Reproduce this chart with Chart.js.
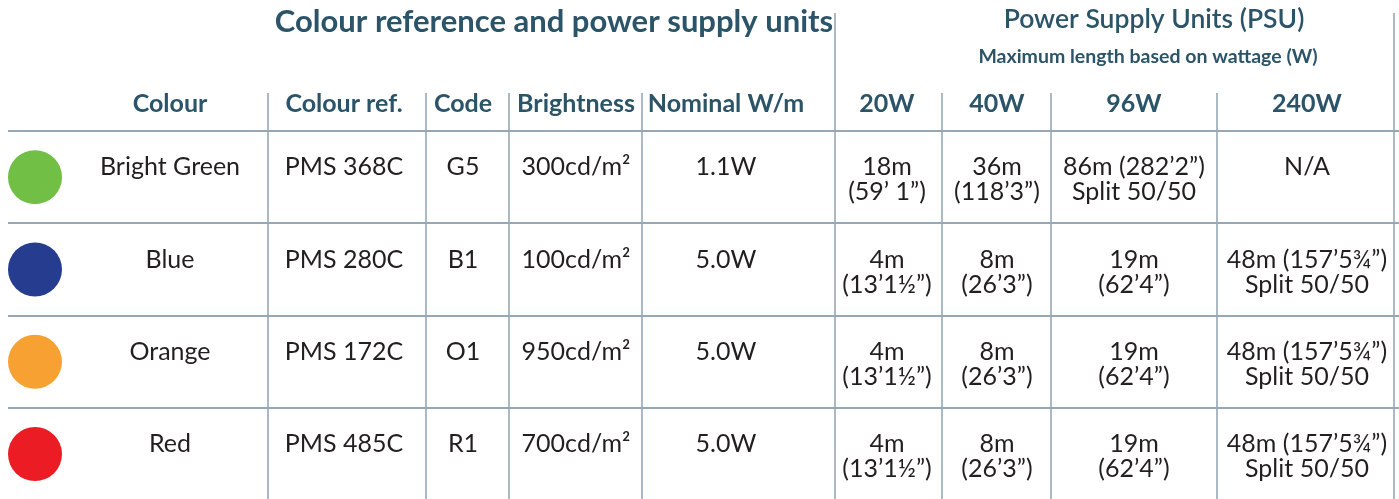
<!DOCTYPE html>
<html>
<head>
<meta charset="utf-8">
<script src="https://cdn.jsdelivr.net/npm/chart.js@4.4.1/dist/chart.umd.min.js"></script>
<style>
    html, body { margin: 0; padding: 0; background: #fff; }
    #wrap { width: 1399px; height: 499px; }
</style>
</head>
<body>
<div id="wrap"><canvas id="tableChart"></canvas></div>
<script>
// Table data
const columnHeaders = ['Colour', 'Colour ref.', 'Code', 'Brightness', 'Nominal W/m', '20W', '40W', '96W', '240W'];
const colourNames = ['Bright Green', 'Blue', 'Orange', 'Red'];
const swatchColours = ['#71bf45', '#263d8f', '#f8a133', '#ec1c24'];
const colourRefs = ['PMS 368C', 'PMS 280C', 'PMS 172C', 'PMS 485C'];
const codes = ['G5', 'B1', 'O1', 'R1'];
const brightness = ['300cd/m²', '100cd/m²', '950cd/m²', '700cd/m²'];
const nominalWm = ['1.1W', '5.0W', '5.0W', '5.0W'];
const psu20W = [['18m', '(59’ 1”)'], ['4m', '(13’1½”)'], ['4m', '(13’1½”)'], ['4m', '(13’1½”)']];
const psu40W = [['36m', '(118’3”)'], ['8m', '(26’3”)'], ['8m', '(26’3”)'], ['8m', '(26’3”)']];
const psu96W = [['86m (282’2”)', 'Split 50/50'], ['19m', '(62’4”)'], ['19m', '(62’4”)'], ['19m', '(62’4”)']];
const psu240W = [['N/A'], ['48m (157’5¾”)', 'Split 50/50'], ['48m (157’5¾”)', 'Split 50/50'], ['48m (157’5¾”)', 'Split 50/50']];

const mainTitle = 'Colour reference and power supply units';
const psuTitle = 'Power Supply Units (PSU)';
const psuSubtitle = 'Maximum length based on wattage (W)';

// Layout (x in page units, y in row units: row i spans i..i+1)
const colCenters = [170, 344, 463, 576, 726, 887, 997, 1134, 1307];
const swatchX = 35;
const innerEdges = [268, 426, 509, 642, 942, 1051, 1217];
const outerEdges = [835, 1394];
const rowLines = [0, 1, 2, 3];

const HEAD = '#2c5468';
const TEXT = '#231f20';
const LINE = '#95a8b4';

const columns = [colourNames, colourRefs, codes, brightness, nominalWm, psu20W, psu40W, psu96W, psu240W];

const tablePlugin = {
    id: 'tablePlugin',
    beforeDatasetsDraw(chart) {
        const { ctx, scales: { x, y } } = chart;
        ctx.save();
        ctx.strokeStyle = LINE;
        ctx.lineWidth = 2;
        rowLines.forEach(r => {
            const py = Math.round(y.getPixelForValue(r));
            ctx.beginPath();
            ctx.moveTo(x.getPixelForValue(8), py);
            ctx.lineTo(x.getPixelForValue(1399), py);
            ctx.stroke();
        });
        ctx.lineWidth = 1.6;
        innerEdges.forEach(e => {
            const px = x.getPixelForValue(e);
            ctx.beginPath();
            ctx.moveTo(px, y.getPixelForValue(-0.412));
            ctx.lineTo(px, y.getPixelForValue(4));
            ctx.stroke();
        });
        outerEdges.forEach(e => {
            const px = x.getPixelForValue(e);
            ctx.beginPath();
            ctx.moveTo(px, y.getPixelForValue(-1.278));
            ctx.lineTo(px, y.getPixelForValue(4));
            ctx.stroke();
        });
        ctx.restore();
    },
    afterDatasetsDraw(chart) {
        const { ctx, scales: { x, y } } = chart;
        ctx.save();
        ctx.textAlign = 'center';
        ctx.textBaseline = 'alphabetic';

        // titles
        ctx.fillStyle = HEAD;
        ctx.font = 'bold 31px Lato';
        ctx.fillText(mainTitle, x.getPixelForValue(554), y.getPixelForValue(-1.073));
        ctx.font = '600 26.5px Lato';
        ctx.fillText(psuTitle, x.getPixelForValue(1154), y.getPixelForValue(-1.116));
        ctx.font = 'bold 19.5px Lato';
        ctx.fillText(psuSubtitle, x.getPixelForValue(1148), y.getPixelForValue(-0.737));

        // column headers
        ctx.font = 'bold 25px Lato';
        columnHeaders.forEach((h, c) => {
            ctx.fillText(h, x.getPixelForValue(colCenters[c]), y.getPixelForValue(-0.206));
        });

        // body cells
        ctx.fillStyle = TEXT;
        ctx.font = '25px Lato';
        columns.forEach((col, c) => {
            col.forEach((cell, r) => {
                const lines = Array.isArray(cell) ? cell : [cell];
                lines.forEach((ln, k) => {
                    ctx.fillText(ln, x.getPixelForValue(colCenters[c]), y.getPixelForValue(r + 0.482 + k * 0.271));
                });
            });
        });
        ctx.restore();
    }
};

new Chart(document.getElementById('tableChart'), {
    type: 'scatter',
    data: {
        datasets: [{
            label: 'Colour',
            data: colourNames.map((n, i) => ({ x: swatchX, y: i + 0.5 })),
            backgroundColor: swatchColours,
            borderWidth: 0,
            pointRadius: 27,
            pointHoverRadius: 27,
            clip: false
        }]
    },
    options: {
        responsive: true,
        maintainAspectRatio: false,
        animation: false,
        events: [],
        layout: { padding: 0, autoPadding: false },
        scales: {
            x: { type: 'linear', min: 0, max: 1399, display: false },
            y: { type: 'linear', min: -1.419, max: 3.987, reverse: true, display: false }
        },
        plugins: { legend: { display: false }, tooltip: { enabled: false } }
    },
    plugins: [tablePlugin]
});
</script>
</body>
</html>
